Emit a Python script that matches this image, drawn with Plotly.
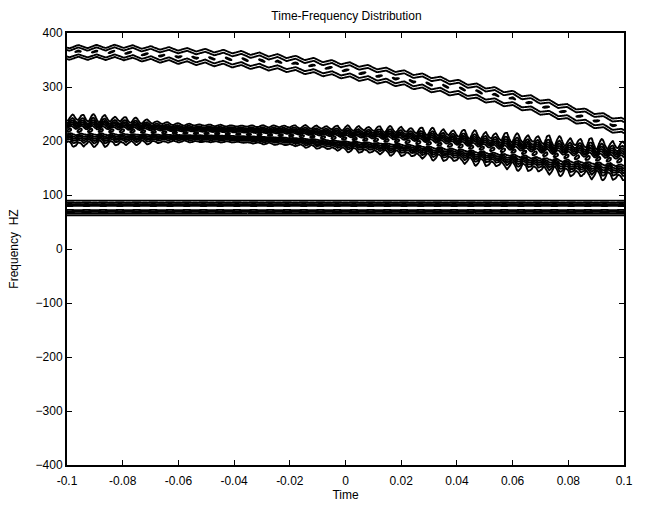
import numpy as np
import plotly.graph_objects as go

# ---- values (ridge centres / widths at time knots) ----
knot_t = [-0.1, -0.08, -0.06, -0.04, -0.02, 0.0, 0.02, 0.04, 0.06, 0.08, 0.1]
chirp_freq = [364, 364, 358, 352, 343, 331, 316, 298, 277, 252, 226]
chirp_width = [6.5, 7.0, 7.5, 8.0, 8.0, 8.0, 8.0, 8.0, 8.0, 8.0, 8.0]
mid_freq = [219, 218, 215, 213, 210, 204, 199, 190, 180, 170, 162]
mid_width = [12.0, 10.5, 7.5, 7.0, 8.0, 9.5, 10.5, 11.5, 12.5, 13.5, 14.0]
mid_zigzag = [0.38, 0.33, 0.15, 0.10, 0.18, 0.28, 0.33, 0.38, 0.38, 0.40, 0.40]
tone_freq = [76, 76, 76, 76, 76, 76, 76, 76, 76, 76, 76]
tone_width = [6.6, 6.6, 6.6, 6.6, 6.6, 6.6, 6.6, 6.6, 6.6, 6.6, 6.6]

chirp_levels = (0.25, 0.95, 0.35)
mid_levels = (0.1, 0.94, 0.14)
tone_levels = (0.12, 0.97, 0.23)

x_tickvals = [-0.1, -0.08, -0.06, -0.04, -0.02, 0, 0.02, 0.04, 0.06, 0.08, 0.1]
x_ticktext = ["-0.1", "-0.08", "-0.06", "-0.04", "-0.02", "0", "0.02", "0.04", "0.06", "0.08", "0.1"]
y_tickvals = [-400, -300, -200, -100, 0, 100, 200, 300, 400]

# ---- build the distribution grids for the contour traces ----
t = np.linspace(-0.1, 0.1, 501)
f = np.arange(0, 401, 1.0)
T, F = np.meshgrid(t, f)


def at(arr):
    return np.interp(t, knot_t, arr)[None, :]


def tri(x):
    return (2 / np.pi) * np.arcsin(np.sin(x))


zz = tri(2 * np.pi * t / 0.0038)[None, :]
zz2 = tri(2 * np.pi * t / 0.0038 + 1.3)[None, :]
zz3 = tri(2 * np.pi * t / 0.0051 + 0.4)[None, :]
wob = tri(2 * np.pi * t / 0.0065)[None, :]
tmod = np.cos(2 * np.pi * t / 0.006)[None, :]
bead = np.cos(2 * np.pi * t / 0.0038 + 0.8)[None, :]

s_mid = at(mid_width) * (1 + at(mid_zigzag) * (0.75 * zz + 0.25 * zz3))
c_mid = at(mid_freq) + at(mid_zigzag) * at(mid_width) * 0.6 * zz2
Z_mid = np.round(np.exp(-(F - c_mid) ** 2 / (2 * s_mid ** 2)) * (0.93 + 0.04 * bead), 3)

c_ch = at(chirp_freq) + 3.0 * wob
Z_ch = np.round(np.exp(-(F - c_ch) ** 2 / (2 * at(chirp_width) ** 2)) * (0.945 + 0.015 * tmod), 3)

Z_tone = np.round(np.exp(-(F - at(tone_freq)) ** 2 / (2 * at(tone_width) ** 2)) * (0.965 + 0.03 * tmod), 3)

fig = go.Figure()
for Z, lv in [(Z_tone, tone_levels), (Z_mid, mid_levels), (Z_ch, chirp_levels)]:
    fig.add_trace(go.Contour(
        x=t, y=f, z=Z,
        contours=dict(coloring="lines", start=lv[0], end=lv[1], size=lv[2]),
        colorscale=[[0, "black"], [1, "black"]],
        line=dict(width=1.9, smoothing=0.6),
        showscale=False,
        hoverinfo="skip",
    ))

font = dict(family="Liberation Sans, Arial, sans-serif", size=12, color="black")
fig.update_layout(
    width=645, height=509,
    margin=dict(l=67, r=19, t=33, b=36),
    paper_bgcolor="white", plot_bgcolor="white",
    font=font,
    title=dict(text="Time-Frequency Distribution", x=(67 + 626) / 2 / 645, xanchor="center",
               y=1 - 16 / 509, yanchor="middle", font=dict(size=12, color="black")),
    showlegend=False,
)
fig.update_xaxes(
    range=[-0.1, 0.1], tickvals=x_tickvals, ticktext=x_ticktext,
    showline=True, linecolor="black", linewidth=2, mirror="ticks",
    ticks="inside", ticklen=5, tickwidth=1, tickcolor="black",
    ticklabelstandoff=4,
    showgrid=False, zeroline=False,
    title=dict(text="Time", standoff=0, font=dict(color="black", size=12)),
)
fig.update_yaxes(
    range=[-400, 400], tickvals=y_tickvals,
    showline=True, linecolor="black", linewidth=2, mirror="ticks",
    ticks="inside", ticklen=5, tickwidth=1, tickcolor="black",
    showgrid=False, zeroline=False,
    title=dict(text="Frequency  HZ", standoff=14, font=dict(color="black", size=12)),
)

fig.write_html("out.html")
